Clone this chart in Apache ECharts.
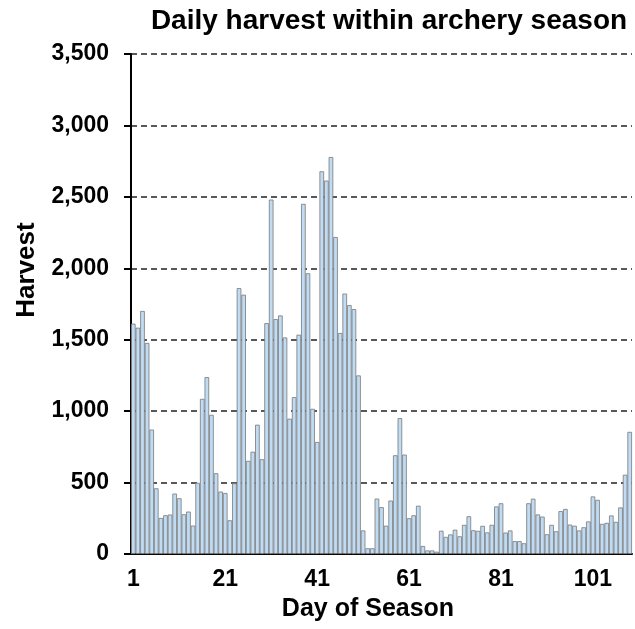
<!DOCTYPE html>
<html>
<head>
<meta charset="utf-8">
<script src="https://cdn.jsdelivr.net/npm/echarts@6/dist/echarts.min.js"></script>
<style>
  html, body { margin: 0; padding: 0; background: #fff; }
  #chart { width: 635px; height: 629px; }
</style>
</head>
<body>
<div id="chart"></div>
<script>
// day of season 1..109
const days = []
for (let d = 1; d <= 109; d++) days.push(String(d))

// harvest per day
const harvest = [
  1612, 1584, 1701, 1477, 871, 460, 252, 271, 276, 423,
  390, 278, 297, 199, 498, 1086, 1238, 974, 565, 437,
  427, 236, 495, 1861, 1815, 652, 716, 905, 663, 1616,
  2481, 1644, 1670, 1516, 947, 1098, 1535, 2451, 1965, 1016,
  784, 2679, 2614, 2779, 2219, 1547, 1823, 1742, 1714, 1250,
  165, 40, 40, 388, 328, 198, 374, 691, 951, 696,
  250, 271, 338, 56, 25, 25, 16, 163, 120, 137,
  170, 124, 204, 264, 166, 162, 197, 151, 204, 333,
  355, 150, 165, 90, 90, 75, 355, 387, 277, 262,
  138, 204, 159, 300, 315, 206, 198, 165, 187, 228,
  403, 379, 211, 218, 270, 225, 326, 555, 855
]

const yMax = 3500
const yStep = 500

const font = '"Liberation Sans", Arial, sans-serif'

const chart = echarts.init(document.getElementById('chart'))
chart.setOption({
  animation: false,
  grid: { left: 131, right: 3, top: 54, bottom: 75 },
  graphic: [
    {
      type: 'text', x: 389, y: 21,
      style: { text: 'Daily harvest within archery season', font: 'bold 28px ' + font,
        fill: '#000', align: 'center', verticalAlign: 'middle' }
    },
    {
      type: 'text', x: 368, y: 609,
      style: { text: 'Day of Season', font: 'bold 25px ' + font,
        fill: '#000', align: 'center', verticalAlign: 'middle' }
    },
    {
      type: 'text', x: 27, y: 270, rotation: Math.PI / 2,
      style: { text: 'Harvest', font: 'bold 26px ' + font,
        fill: '#000', align: 'center', verticalAlign: 'middle' }
    }
  ],
  xAxis: {
    type: 'category',
    data: days,
    boundaryGap: true,
    axisLine: { lineStyle: { color: '#000', width: 2 } },
    axisTick: { interval: 9, length: 6, lineStyle: { color: '#000', width: 2 } },
    axisLabel: {
      interval: 19, margin: 14, color: '#000',
      fontFamily: font, fontWeight: 'bold', fontSize: 23
    },
    splitLine: { show: false }
  },
  yAxis: {
    type: 'value',
    min: 0, max: yMax, interval: yStep,
    axisLine: { show: true, lineStyle: { color: '#000', width: 2 } },
    axisTick: { show: true, length: 7, lineStyle: { color: '#000', width: 2 } },
    axisLabel: {
      margin: 22, color: '#000',
      fontFamily: font, fontWeight: 'bold', fontSize: 23,
      formatter: v => v.toLocaleString('en-US')
    },
    splitLine: { lineStyle: { color: '#222', width: 1.5, type: [6, 4] } }
  },
  series: [{
    type: 'bar',
    data: harvest,
    barCategoryGap: '0%',
    itemStyle: { color: '#c0dcf4', borderColor: '#787878', borderWidth: 0.8 }
  }]
})
</script>
</body>
</html>
